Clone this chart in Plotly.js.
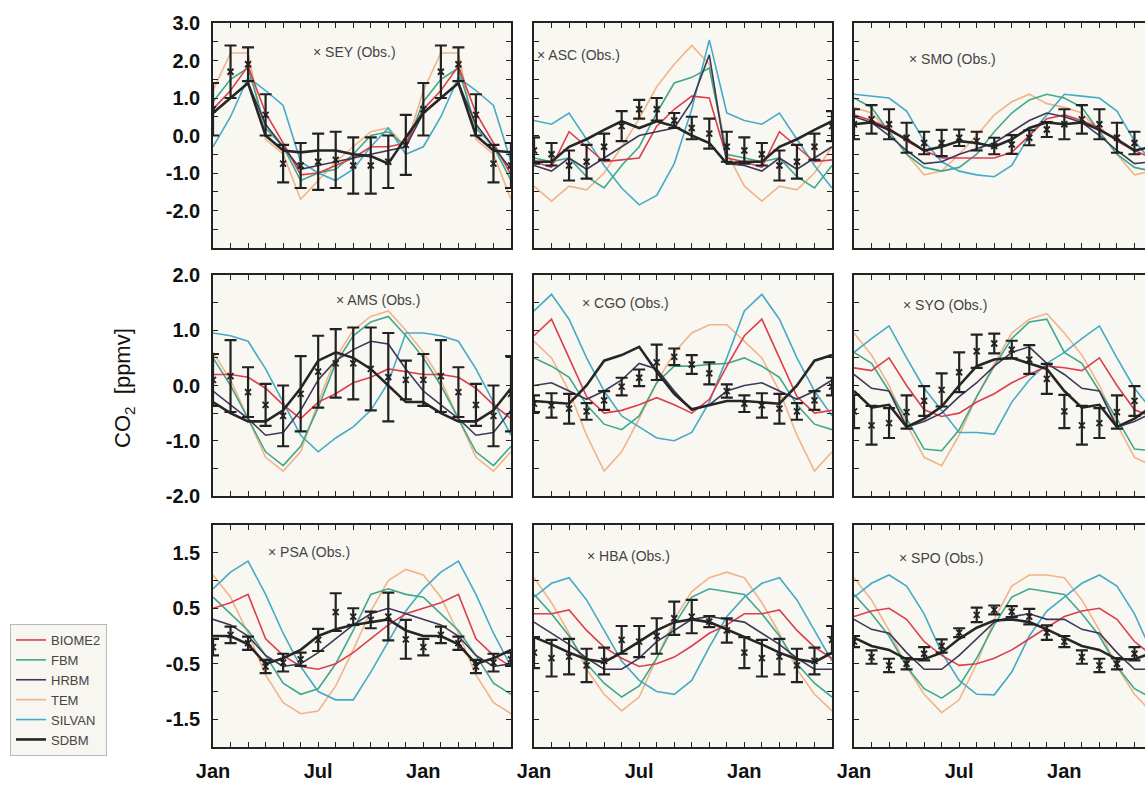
<!DOCTYPE html>
<html><head><meta charset="utf-8">
<script src="https://cdn.plot.ly/plotly-3.0.1.min.js"></script>
<style>html,body{margin:0;padding:0;overflow:hidden;background:#ffffff}#chart{width:1160px;height:788px}</style>
</head><body><div id="chart"></div>
<script>
// ---------- axes / labels ----------
const months = [0,1,2,3,4,5,6,7,8,9,10,11,12,13,14,15,16,17];
const monthTickText = ['Jan','','','','','','Jul','','','','','','Jan','','','','',''];
const stations = ['SEY','ASC','SMO','AMS','CGO','SYO','PSA','HBA','SPO'];
const models = ['BIOME2','FBM','HRBM','TEM','SILVAN','SDBM'];
const row1TickVals = [-3,-2.5,-2,-1.5,-1,-0.5,0,0.5,1,1.5,2,2.5,3];
const row1TickText = ['','','-2.0','','-1.0','','0.0','','1.0','','2.0','','3.0'];
const row2TickVals = [-2,-1.5,-1,-0.5,0,0.5,1,1.5,2];
const row2TickText = ['-2.0','','-1.0','','0.0','','1.0','','2.0'];
const row3TickVals = [-2,-1.5,-1,-0.5,0,0.5,1,1.5,2];
const row3TickText = ['','-1.5','','-0.5','','0.5','','1.5',''];

// ---------- data (ppmv), months Jan..Jun of following year ----------
const SEY_obs = [0.7,1.7,1.9,0.55,-0.75,-0.8,-0.7,-0.65,-0.8,-0.8,-0.7,-0.25,0.7,1.7,1.9,0.55,-0.75,-0.8];
const SEY_err = [0.7,0.7,0.45,0.55,0.5,0.6,0.75,0.75,0.75,0.75,0.7,0.8,0.7,0.7,0.45,0.55,0.5,0.6];
const SEY_BIOME2 = [0.7,1.2,1.85,0.6,-0.2,-1.05,-1.0,-0.8,-0.6,-0.3,-0.3,-0.2,0.7,1.2,1.85,0.6,-0.2,-1.05];
const SEY_FBM = [0.9,1.5,1.8,0.2,-0.3,-1.2,-1.0,-0.9,-0.5,0.0,0.1,-0.3,0.9,1.5,1.8,0.2,-0.3,-1.2];
const SEY_HRBM = [0.6,1.0,1.4,0.3,-0.3,-0.9,-0.8,-0.7,-0.6,-0.5,-0.4,-0.3,0.6,1.0,1.4,0.3,-0.3,-0.9];
const SEY_TEM = [1.2,2.2,2.2,-0.1,-0.5,-1.7,-1.2,-0.7,-0.3,0.1,0.2,-0.3,1.2,2.2,2.2,-0.1,-0.5,-1.7];
const SEY_SILVAN = [-0.3,0.5,1.55,1.2,0.8,-0.7,-1.0,-1.2,-0.9,-0.3,0.2,-0.5,-0.3,0.5,1.55,1.2,0.8,-0.7];
const SEY_SDBM = [0.6,1.0,1.4,0.0,-0.4,-0.45,-0.4,-0.4,-0.5,-0.55,-0.75,-0.05,0.6,1.0,1.4,0.0,-0.4,-0.45];

const ASC_obs = [-0.4,-0.5,-0.8,-0.7,-0.3,0.25,0.7,0.7,0.4,0.2,0.05,-0.3,-0.4,-0.5,-0.8,-0.7,-0.3,0.25];
const ASC_err = [0.35,0.3,0.4,0.45,0.35,0.4,0.25,0.3,0.2,0.3,0.4,0.4,0.35,0.3,0.4,0.45,0.35,0.4];
const ASC_BIOME2 = [-0.7,-0.85,0.1,-0.3,-0.7,-0.65,-0.6,0.25,0.7,1.05,1.0,-0.6,-0.7,-0.85,0.1,-0.3,-0.7,-0.65];
const ASC_FBM = [-0.6,-0.7,-0.6,-1.1,-1.4,-0.8,-0.3,0.6,1.4,1.55,1.8,-0.5,-0.6,-0.7,-0.6,-1.1,-1.4,-0.8];
const ASC_HRBM = [-0.8,-0.95,-0.6,-0.9,-0.6,-0.3,0.0,0.1,0.2,0.9,2.15,-0.75,-0.8,-0.95,-0.6,-0.9,-0.6,-0.3];
const ASC_TEM = [-1.35,-1.75,-1.35,-1.45,-1.0,-0.3,0.45,1.3,1.9,2.4,1.9,-0.45,-1.35,-1.75,-1.35,-1.45,-1.0,-0.3];
const ASC_SILVAN = [0.4,0.3,0.6,-0.1,-0.8,-1.4,-1.85,-1.6,-0.75,0.7,2.55,0.6,0.4,0.3,0.6,-0.1,-0.8,-1.4];
const ASC_SDBM = [-0.7,-0.7,-0.3,-0.1,0.15,0.38,0.2,0.38,0.25,0.0,-0.2,-0.75,-0.7,-0.7,-0.3,-0.1,0.15,0.38];

const SMO_obs = [0.3,0.43,0.3,-0.06,-0.2,-0.2,-0.06,-0.15,-0.28,-0.24,-0.06,0.16,0.3,0.43,0.3,-0.06,-0.2,-0.2];
const SMO_err = [0.4,0.38,0.4,0.4,0.3,0.35,0.22,0.25,0.22,0.25,0.2,0.2,0.4,0.38,0.4,0.4,0.3,0.35];
const SMO_BIOME2 = [0.55,0.4,0.2,-0.15,-0.4,-0.6,-0.6,-0.6,-0.6,-0.45,0.0,0.45,0.55,0.4,0.2,-0.15,-0.4,-0.6];
const SMO_FBM = [1.0,0.75,0.1,-0.5,-0.85,-0.95,-0.85,-0.5,0.1,0.6,0.95,1.1,1.0,0.75,0.1,-0.5,-0.85,-0.95];
const SMO_HRBM = [0.5,0.35,0.0,-0.4,-0.75,-0.7,-0.5,-0.35,-0.2,0.1,0.4,0.6,0.5,0.35,0.0,-0.4,-0.75,-0.7];
const SMO_TEM = [0.75,0.6,0.1,-0.5,-1.05,-0.95,-0.5,0.0,0.55,0.9,1.1,0.85,0.75,0.6,0.1,-0.5,-1.05,-0.95];
const SMO_SILVAN = [1.1,1.05,1.0,0.65,-0.15,-0.7,-0.95,-1.05,-1.1,-0.8,0.0,0.55,1.1,1.05,1.0,0.65,-0.15,-0.7];
const SMO_SDBM = [0.3,0.35,0.15,-0.1,-0.4,-0.3,-0.15,-0.2,-0.3,-0.1,0.2,0.35,0.3,0.35,0.15,-0.1,-0.4,-0.3];

const AMS_obs = [0.1,0.17,-0.12,-0.35,-0.55,-0.15,0.25,0.4,0.4,0.3,0.15,0.1,0.1,0.17,-0.12,-0.35,-0.55,-0.15];
const AMS_err = [0.47,0.65,0.45,0.38,0.55,0.68,0.65,0.62,0.65,0.75,0.8,0.35,0.47,0.65,0.45,0.38,0.55,0.68];
const AMS_BIOME2 = [0.2,0.2,0.15,-0.05,-0.35,-0.6,-0.3,-0.15,0.05,0.15,0.3,0.25,0.2,0.2,0.15,-0.05,-0.35,-0.6];
const AMS_FBM = [0.5,0.0,-0.6,-1.2,-1.45,-1.1,-0.4,0.4,0.9,1.15,1.25,0.9,0.5,0.0,-0.6,-1.2,-1.45,-1.1];
const AMS_HRBM = [-0.1,-0.35,-0.6,-0.9,-0.85,-0.45,0.1,0.45,0.65,0.8,0.75,0.3,-0.1,-0.35,-0.6,-0.9,-0.85,-0.45];
const AMS_TEM = [0.6,0.1,-0.6,-1.3,-1.55,-1.2,-0.3,0.5,1.0,1.25,1.35,1.0,0.6,0.1,-0.6,-1.3,-1.55,-1.2];
const AMS_SILVAN = [0.95,0.9,0.8,0.3,-0.3,-0.9,-1.2,-0.95,-0.75,-0.45,0.05,0.95,0.95,0.9,0.8,0.3,-0.3,-0.9];
const AMS_SDBM = [-0.3,-0.5,-0.65,-0.65,-0.45,-0.05,0.45,0.6,0.5,0.3,0.0,-0.3,-0.3,-0.5,-0.65,-0.65,-0.45,-0.05];

const CGO_obs = [-0.33,-0.36,-0.42,-0.47,-0.27,-0.02,0.14,0.42,0.52,0.38,0.22,-0.1,-0.33,-0.36,-0.42,-0.47,-0.27,-0.02];
const CGO_err = [0.15,0.22,0.27,0.15,0.17,0.16,0.15,0.32,0.15,0.17,0.2,0.12,0.15,0.22,0.27,0.15,0.17,0.16];
const CGO_BIOME2 = [0.9,1.2,0.5,-0.2,-0.5,-0.45,-0.35,-0.22,-0.35,-0.5,-0.25,0.35,0.9,1.2,0.5,-0.2,-0.5,-0.45];
const CGO_FBM = [0.5,0.35,0.15,-0.35,-0.7,-0.8,-0.55,0.05,0.35,0.35,0.38,0.4,0.5,0.35,0.15,-0.35,-0.7,-0.8];
const CGO_HRBM = [0.0,0.05,-0.1,-0.25,-0.1,0.1,0.4,0.3,-0.1,-0.45,-0.35,-0.1,0.0,0.05,-0.1,-0.25,-0.1,0.1];
const CGO_TEM = [0.8,0.5,-0.1,-0.9,-1.55,-1.2,-0.6,0.05,0.6,0.95,1.1,1.1,0.8,0.5,-0.1,-0.9,-1.55,-1.2];
const CGO_SILVAN = [1.35,1.65,1.2,0.5,-0.1,-0.55,-0.75,-0.95,-1.0,-0.85,-0.3,0.5,1.35,1.65,1.2,0.5,-0.1,-0.55];
const CGO_SDBM = [-0.28,-0.3,-0.33,0.0,0.45,0.55,0.7,0.25,-0.15,-0.43,-0.35,-0.28,-0.28,-0.3,-0.33,0.0,0.45,0.55];

const SYO_obs = [-0.47,-0.72,-0.68,-0.48,-0.28,-0.08,0.24,0.62,0.76,0.65,0.47,0.12,-0.47,-0.72,-0.68,-0.48,-0.28,-0.08];
const SYO_err = [0.3,0.35,0.27,0.3,0.27,0.3,0.36,0.3,0.18,0.16,0.26,0.27,0.3,0.35,0.27,0.3,0.27,0.3];
const SYO_BIOME2 = [0.32,0.27,0.5,0.0,-0.44,-0.56,-0.5,-0.3,-0.15,0.05,0.2,0.35,0.32,0.27,0.5,0.0,-0.44,-0.56];
const SYO_FBM = [0.6,0.4,-0.1,-0.6,-1.15,-1.18,-0.8,-0.2,0.35,0.85,1.15,1.2,0.6,0.4,-0.1,-0.6,-1.15,-1.18];
const SYO_HRBM = [0.2,-0.05,-0.1,-0.75,-0.65,-0.5,-0.2,0.05,0.35,0.6,0.7,0.4,0.2,-0.05,-0.1,-0.75,-0.65,-0.5];
const SYO_TEM = [0.95,0.55,0.0,-0.7,-1.3,-1.45,-0.9,-0.2,0.4,0.95,1.2,1.3,0.95,0.55,0.0,-0.7,-1.3,-1.45];
const SYO_SILVAN = [0.6,0.85,1.08,0.5,-0.05,-0.45,-0.85,-0.85,-0.88,-0.3,0.1,0.4,0.6,0.85,1.08,0.5,-0.05,-0.45];
const SYO_SDBM = [-0.1,-0.4,-0.35,-0.75,-0.6,-0.38,0.0,0.35,0.47,0.5,0.4,0.3,-0.1,-0.4,-0.35,-0.75,-0.6,-0.38];

const PSA_obs = [-0.2,0.02,-0.13,-0.55,-0.48,-0.42,-0.07,0.43,0.35,0.29,0.35,-0.06,-0.2,0.02,-0.13,-0.55,-0.48,-0.42];
const PSA_err = [0.15,0.15,0.12,0.12,0.16,0.12,0.2,0.34,0.15,0.15,0.43,0.35,0.15,0.15,0.12,0.12,0.16,0.12];
const PSA_BIOME2 = [0.5,0.6,0.75,-0.05,-0.35,-0.55,-0.6,-0.5,-0.3,-0.05,0.2,0.4,0.5,0.6,0.75,-0.05,-0.35,-0.55];
const PSA_FBM = [0.7,0.4,0.1,-0.35,-0.85,-1.05,-0.95,-0.5,0.1,0.75,0.85,0.75,0.7,0.4,0.1,-0.35,-0.85,-1.05];
const PSA_HRBM = [0.3,0.2,0.0,-0.35,-0.55,-0.5,-0.3,-0.05,0.2,0.4,0.5,0.4,0.3,0.2,0.0,-0.35,-0.55,-0.5];
const PSA_TEM = [1.1,0.7,0.05,-0.7,-1.2,-1.4,-1.35,-0.9,-0.25,0.45,1.0,1.2,1.1,0.7,0.05,-0.7,-1.2,-1.4];
const PSA_SILVAN = [0.85,1.15,1.35,0.75,0.05,-0.55,-1.0,-1.15,-1.15,-0.65,-0.1,0.45,0.85,1.15,1.35,0.75,0.05,-0.55];
const PSA_SDBM = [0.0,0.0,-0.15,-0.5,-0.4,-0.25,0.0,0.12,0.2,0.25,0.3,0.1,0.0,0.0,-0.15,-0.5,-0.4,-0.25];

const HBA_obs = [-0.3,-0.4,-0.37,-0.53,-0.45,-0.07,-0.1,0.0,0.32,0.35,0.26,0.1,-0.3,-0.4,-0.37,-0.53,-0.45,-0.07];
const HBA_err = [0.28,0.33,0.32,0.3,0.24,0.25,0.28,0.32,0.3,0.3,0.1,0.22,0.28,0.33,0.32,0.3,0.24,0.25];
const HBA_BIOME2 = [0.4,0.4,0.47,0.1,-0.2,-0.4,-0.55,-0.5,-0.38,-0.18,0.05,0.2,0.4,0.4,0.47,0.1,-0.2,-0.4];
const HBA_FBM = [0.75,0.4,0.0,-0.5,-0.85,-1.1,-0.9,-0.4,0.2,0.7,0.85,0.8,0.75,0.4,0.0,-0.5,-0.85,-1.1];
const HBA_HRBM = [0.25,0.05,-0.15,-0.4,-0.6,-0.6,-0.4,-0.1,0.1,0.3,0.35,0.3,0.25,0.05,-0.15,-0.4,-0.6,-0.6];
const HBA_TEM = [1.05,0.6,0.05,-0.6,-1.05,-1.35,-1.1,-0.4,0.3,0.8,1.05,1.15,1.05,0.6,0.05,-0.6,-1.05,-1.35];
const HBA_SILVAN = [0.7,0.95,1.05,0.65,0.1,-0.45,-0.8,-1.0,-1.05,-0.8,-0.2,0.35,0.7,0.95,1.05,0.65,0.1,-0.45];
const HBA_SDBM = [-0.02,-0.15,-0.3,-0.42,-0.47,-0.3,-0.1,0.1,0.25,0.3,0.25,0.12,-0.02,-0.15,-0.3,-0.42,-0.47,-0.3];

const SPO_obs = [-0.1,-0.38,-0.53,-0.5,-0.32,-0.18,0.06,0.38,0.47,0.44,0.35,0.06,-0.1,-0.38,-0.53,-0.5,-0.32,-0.18];
const SPO_err = [0.1,0.12,0.12,0.1,0.12,0.12,0.08,0.13,0.08,0.1,0.14,0.13,0.1,0.12,0.12,0.1,0.12,0.12];
const SPO_BIOME2 = [0.35,0.45,0.5,0.3,-0.1,-0.35,-0.53,-0.5,-0.4,-0.25,-0.05,0.15,0.35,0.45,0.5,0.3,-0.1,-0.35];
const SPO_FBM = [0.75,0.4,0.0,-0.55,-0.95,-1.12,-0.9,-0.4,0.2,0.7,0.85,0.8,0.75,0.4,0.0,-0.55,-0.95,-1.12];
const SPO_HRBM = [0.3,0.12,0.05,-0.3,-0.6,-0.6,-0.35,-0.05,0.25,0.35,0.4,0.3,0.3,0.12,0.05,-0.3,-0.6,-0.6];
const SPO_TEM = [1.05,0.65,0.1,-0.55,-1.05,-1.38,-1.15,-0.5,0.3,0.9,1.1,1.1,1.05,0.65,0.1,-0.55,-1.05,-1.38];
const SPO_SILVAN = [0.7,0.95,1.1,0.9,0.4,-0.3,-0.8,-1.05,-1.06,-0.65,0.0,0.45,0.7,0.95,1.1,0.9,0.4,-0.3];
const SPO_SDBM = [-0.03,-0.18,-0.25,-0.42,-0.42,-0.3,-0.05,0.15,0.28,0.3,0.25,0.12,-0.03,-0.18,-0.25,-0.42,-0.42,-0.3];

// lookup tables built from the arrays above
const series = {
  SEY:{BIOME2:SEY_BIOME2,FBM:SEY_FBM,HRBM:SEY_HRBM,TEM:SEY_TEM,SILVAN:SEY_SILVAN,SDBM:SEY_SDBM,obs:SEY_obs,err:SEY_err},
  ASC:{BIOME2:ASC_BIOME2,FBM:ASC_FBM,HRBM:ASC_HRBM,TEM:ASC_TEM,SILVAN:ASC_SILVAN,SDBM:ASC_SDBM,obs:ASC_obs,err:ASC_err},
  SMO:{BIOME2:SMO_BIOME2,FBM:SMO_FBM,HRBM:SMO_HRBM,TEM:SMO_TEM,SILVAN:SMO_SILVAN,SDBM:SMO_SDBM,obs:SMO_obs,err:SMO_err},
  AMS:{BIOME2:AMS_BIOME2,FBM:AMS_FBM,HRBM:AMS_HRBM,TEM:AMS_TEM,SILVAN:AMS_SILVAN,SDBM:AMS_SDBM,obs:AMS_obs,err:AMS_err},
  CGO:{BIOME2:CGO_BIOME2,FBM:CGO_FBM,HRBM:CGO_HRBM,TEM:CGO_TEM,SILVAN:CGO_SILVAN,SDBM:CGO_SDBM,obs:CGO_obs,err:CGO_err},
  SYO:{BIOME2:SYO_BIOME2,FBM:SYO_FBM,HRBM:SYO_HRBM,TEM:SYO_TEM,SILVAN:SYO_SILVAN,SDBM:SYO_SDBM,obs:SYO_obs,err:SYO_err},
  PSA:{BIOME2:PSA_BIOME2,FBM:PSA_FBM,HRBM:PSA_HRBM,TEM:PSA_TEM,SILVAN:PSA_SILVAN,SDBM:PSA_SDBM,obs:PSA_obs,err:PSA_err},
  HBA:{BIOME2:HBA_BIOME2,FBM:HBA_FBM,HRBM:HBA_HRBM,TEM:HBA_TEM,SILVAN:HBA_SILVAN,SDBM:HBA_SDBM,obs:HBA_obs,err:HBA_err},
  SPO:{BIOME2:SPO_BIOME2,FBM:SPO_FBM,HRBM:SPO_HRBM,TEM:SPO_TEM,SILVAN:SPO_SILVAN,SDBM:SPO_SDBM,obs:SPO_obs,err:SPO_err}
};

// ---------- styles ----------
const modelStyle = {
  BIOME2:{color:'#dc3f4c', width:1.6},
  FBM:{color:'#3fa88c', width:1.6},
  HRBM:{color:'#3d3858', width:1.6},
  TEM:{color:'#f2b487', width:1.6},
  SILVAN:{color:'#45aac6', width:1.6},
  SDBM:{color:'#262626', width:2.6}
};
const drawOrder = ['TEM','SILVAN','FBM','BIOME2','HRBM','SDBM'];

const W = 1160, H = 788;
const colPx = [[213,511],[534,832],[854,1152]];
const rowPx = [[23,248],[275,496],[525,747]];
const rowTicks = [[row1TickVals,row1TickText,[-3,3]],[row2TickVals,row2TickText,[-2,2]],[row3TickVals,row3TickText,[-2,2]]];
const labelPos = [[355,52],[578,55],[952,59],[378,300],[625,303],[945,305],[309,552],[629,556],[941,558]];
const tickFont = {size:20, color:'#111', family:'Liberation Sans, Arial, sans-serif', weight:'bold'};

const traces = [];
const layout = {
  width:W, height:H,
  margin:{l:0,r:0,t:0,b:0},
  paper_bgcolor:'#ffffff',
  plot_bgcolor:'#f9f7f2',
  font:{family:'Liberation Sans, Arial, sans-serif', color:'#111'},
  showlegend:true,
  legend:{x:10/W, y:1-624/H, xanchor:'left', yanchor:'top',
    bgcolor:'#f8f6f1', bordercolor:'#b8b8b8', borderwidth:1,
    font:{size:13, color:'#444', family:'Liberation Sans, Arial, sans-serif'},
    tracegroupgap:0, traceorder:'normal', itemwidth:30},
  annotations:[],
  hovermode:false
};

stations.forEach((st, i) => {
  const r = Math.floor(i/3), c = i%3;
  const sfx = i === 0 ? '' : String(i+1);
  const xa = 'x'+sfx, ya = 'y'+sfx;
  layout['xaxis'+sfx] = {
    domain:[colPx[c][0]/W, colPx[c][1]/W], anchor:ya,
    range:[0,17], tickvals:months, ticktext:monthTickText,
    showticklabels: r === 2, ticks:'inside', ticklen:5, tickwidth:1, tickcolor:'#222',
    showline:true, linecolor:'#222', linewidth:1.8, mirror:'ticks',
    showgrid:false, zeroline:false, fixedrange:true,
    tickfont:tickFont, ticklabelstandoff:5
  };
  layout['yaxis'+sfx] = {
    domain:[1-rowPx[r][1]/H, 1-rowPx[r][0]/H], anchor:xa,
    range:rowTicks[r][2], tickvals:rowTicks[r][0], ticktext:rowTicks[r][1],
    showticklabels: c === 0, ticks:'inside', ticklen:5, tickwidth:1, tickcolor:'#222',
    showline:true, linecolor:'#222', linewidth:1.8, mirror:'ticks',
    showgrid:false, zeroline:false, fixedrange:true,
    tickfont:tickFont, ticklabelstandoff:7
  };
  drawOrder.forEach(m => {
    traces.push({
      type:'scatter', mode:'lines', x:months, y:series[st][m], xaxis:xa, yaxis:ya,
      name:m, legendgroup:m, showlegend: i === 0, legendrank: models.indexOf(m)+1,
      line:{color:modelStyle[m].color, width:modelStyle[m].width}
    });
  });
  traces.push({
    type:'scatter', mode:'markers', x:months, y:series[st].obs, xaxis:xa, yaxis:ya,
    name:st+' (Obs.)', showlegend:false,
    marker:{symbol:'x-thin', size:6, color:'#222', line:{width:1.8, color:'#222'}},
    error_y:{type:'data', array:series[st].err, visible:true, color:'#222', thickness:2.2, width:6}
  });
  layout.annotations.push({
    xref:'paper', yref:'paper', x:labelPos[i][0]/W, y:1-labelPos[i][1]/H,
    text:'× '+st+' (Obs.)', showarrow:false, xanchor:'center', yanchor:'middle',
    font:{size:14, color:'#444'}
  });
});

layout.annotations.push({
  xref:'paper', yref:'paper', x:124/W, y:1-388/H, textangle:-90,
  text:'CO<sub>2</sub>  [ppmv]', showarrow:false, xanchor:'center', yanchor:'middle',
  font:{size:22, color:'#111'}
});

Plotly.newPlot('chart', traces, layout, {displayModeBar:false, staticPlot:true});
</script>
</body></html>
